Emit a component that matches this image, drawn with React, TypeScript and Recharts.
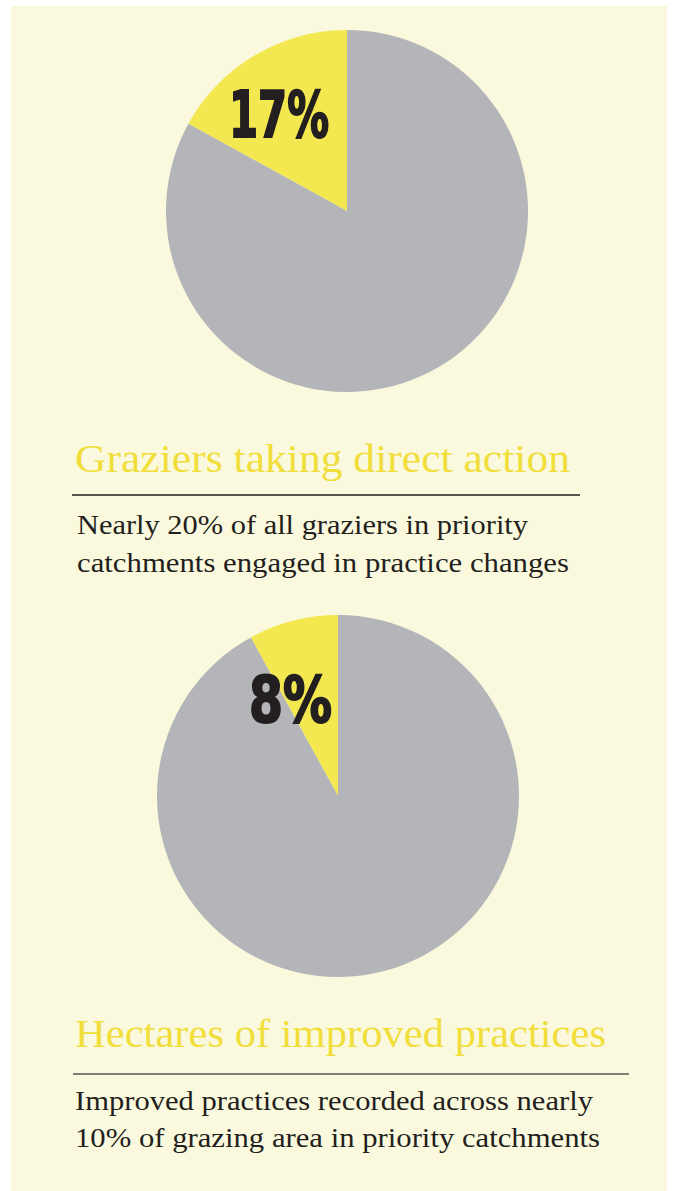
import { PieChart, Pie, Cell } from "recharts";

const sliceColors = ["#F3E84F", "#B4B5B9"];

const grazierShare = [
  { name: "Taking direct action", value: 17 },
  { name: "Other graziers", value: 83 },
];
const hectareShare = [
  { name: "Improved practices", value: 8 },
  { name: "Other area", value: 92 },
];

const pieLabels = ["17%", "8%"];
const titles = ["Graziers taking direct action", "Hectares of improved practices"];
const notes = [
  ["Nearly 20% of all graziers in priority", "catchments engaged in practice changes"],
  ["Improved practices recorded across nearly", "10% of grazing area in priority catchments"],
];

const serif = { fontFamily: "Liberation Serif, Times New Roman, serif" };
const heavy = { fontFamily: "DejaVu Sans, sans-serif", fontWeight: 900, fontStretch: "condensed" as const };

export default function App() {
  return (
    <div style={{ position: "absolute", left: 0, top: 0, width: 673, height: 1191, background: "#fff" }}>
      <div style={{ position: "absolute", left: 11, top: 6, width: 656, height: 1185, background: "#FAF9DD" }} />
      <div style={{ position: "absolute", left: 0, top: 0 }}>
        <PieChart width={673} height={1191} margin={{ top: 0, right: 0, bottom: 0, left: 0 }}>
          <Pie
            data={grazierShare}
            dataKey="value"
            cx={347}
            cy={211}
            outerRadius={181}
            startAngle={90}
            endAngle={450}
            stroke="none"
            isAnimationActive={false}
          >
            {grazierShare.map((d, i) => (
              <Cell key={d.name} fill={sliceColors[i]} />
            ))}
          </Pie>
          <Pie
            data={hectareShare}
            dataKey="value"
            cx={338}
            cy={796}
            outerRadius={181}
            startAngle={90}
            endAngle={450}
            stroke="none"
            isAnimationActive={false}
          >
            {hectareShare.map((d, i) => (
              <Cell key={d.name} fill={sliceColors[i]} />
            ))}
          </Pie>
        </PieChart>
      </div>
      <svg width={673} height={1191} style={{ position: "absolute", left: 0, top: 0 }}>
        {/* big percentage labels */}
        <text x={229} y={137} style={heavy} fontSize={64} fill="#231F20" stroke="#231F20" strokeWidth={2}
          textLength={100} lengthAdjust="spacingAndGlyphs">{pieLabels[0]}</text>
        <text x={249} y={722} style={heavy} fontSize={64} fill="#231F20" stroke="#231F20" strokeWidth={2}
          textLength={83} lengthAdjust="spacingAndGlyphs">{pieLabels[1]}</text>

        {/* first block */}
        <text x={75} y={472} style={serif} fontSize={40} fill="#F1DE3B"
          textLength={495} lengthAdjust="spacingAndGlyphs">{titles[0]}</text>
        <line x1={72} x2={580} y1={495} y2={495} stroke="#231F20" strokeWidth={1.3} />
        <text x={77} y={534} style={serif} fontSize={27} fill="#231F20"
          textLength={451} lengthAdjust="spacingAndGlyphs">{notes[0][0]}</text>
        <text x={77} y={572} style={serif} fontSize={27} fill="#231F20"
          textLength={492} lengthAdjust="spacingAndGlyphs">{notes[0][1]}</text>

        {/* second block */}
        <text x={75} y={1047} style={serif} fontSize={40} fill="#F1DE3B"
          textLength={531} lengthAdjust="spacingAndGlyphs">{titles[1]}</text>
        <line x1={73} x2={629} y1={1074} y2={1074} stroke="#555" strokeWidth={1.3} />
        <text x={75} y={1110} style={serif} fontSize={27} fill="#231F20"
          textLength={518} lengthAdjust="spacingAndGlyphs">{notes[1][0]}</text>
        <text x={75} y={1147} style={serif} fontSize={27} fill="#231F20"
          textLength={525} lengthAdjust="spacingAndGlyphs">{notes[1][1]}</text>
      </svg>
    </div>
  );
}
